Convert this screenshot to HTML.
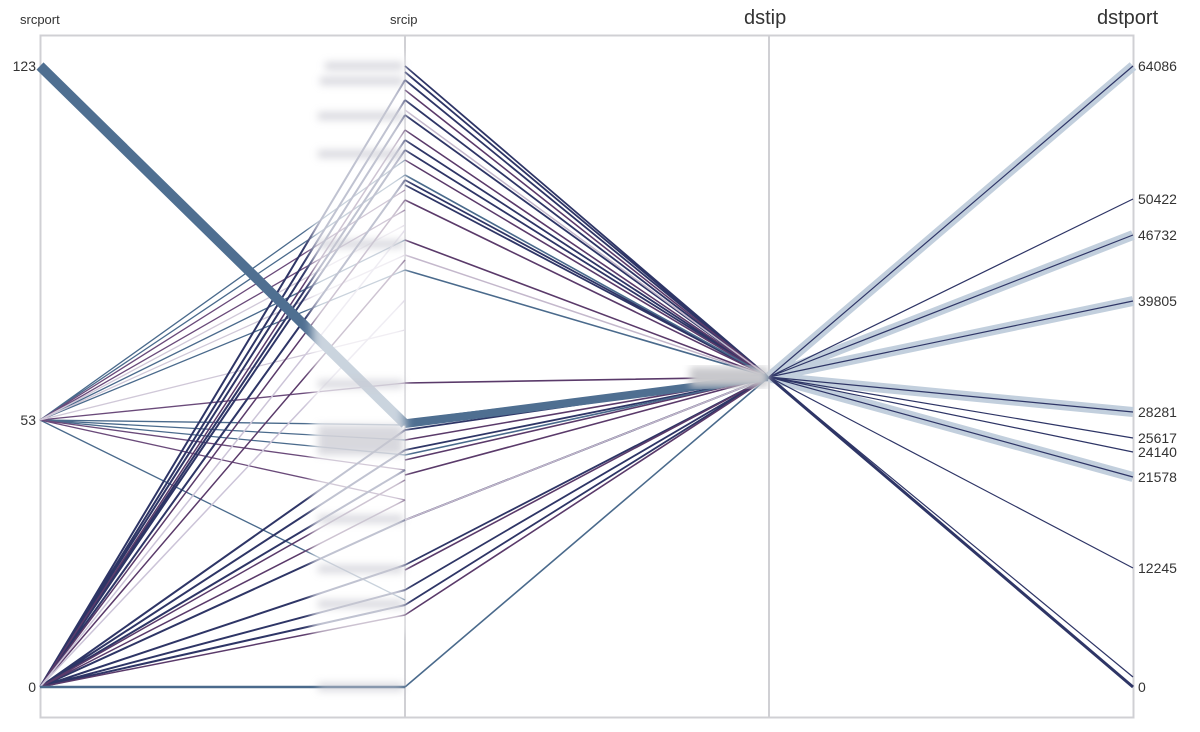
<!DOCTYPE html>
<html><head><meta charset="utf-8"><style>
body{margin:0;background:#fff;width:1200px;height:727px;overflow:hidden;font-family:"Liberation Sans",sans-serif}
</style></head><body>
<svg width="1200" height="727" viewBox="0 0 1200 727" xmlns="http://www.w3.org/2000/svg">
<defs><filter id="b" x="-20%" y="-5%" width="140%" height="110%"><feGaussianBlur stdDeviation="5"/></filter>
<filter id="b2"><feGaussianBlur stdDeviation="4"/></filter></defs>
<rect x="40.5" y="35.5" width="1093" height="682" fill="none" stroke="#d0d0d4" stroke-width="2"/>
<line x1="405" y1="35" x2="405" y2="718" stroke="#d0d0d4" stroke-width="2"/>
<line x1="769" y1="35" x2="769" y2="718" stroke="#d0d0d4" stroke-width="2"/>
<g fill="none" stroke-width="1.3">
<g stroke="#4a6a8c"><path d="M40 420L405 160M40 420L405 175M40 420L405 240M40 420L405 425M40 420L405 455M40 420L405 600M40 420L405 270M40 420L405 440"/></g>
<g stroke="#6a4a7a"><path d="M40 420L405 190M40 420L405 210M40 420L405 383M40 420L405 470M40 420L405 500"/></g>
<g stroke="#d0c8d8"><path d="M40 420L405 225M40 420L405 255M40 420L405 330"/></g>
<g stroke="#2e3566" stroke-width="2"><path d="M40 687L405 80M40 687L405 100M40 687L405 115M40 687L405 150M40 687L405 180M40 687L405 430M40 687L405 450M40 687L405 520M40 687L405 565M40 687L405 590M40 687L405 605M40 687L405 140M40 687L405 470"/></g>
<g stroke="#5a3a6a" stroke-width="1.5"><path d="M40 687L405 130M40 687L405 200M40 687L405 260M40 687L405 480M40 687L405 500M40 687L405 615"/></g>
<g stroke="#ccc4d8" stroke-width="1.5"><path d="M40 687L405 230M40 687L405 300"/></g>
<path d="M40 687L405 687" stroke="#4a6a8c" stroke-width="2.5"/>
<path d="M40 66L405 424" stroke="#4f6f91" stroke-width="10"/>
<g stroke="#2e3566" stroke-width="1.8"><path d="M405 66L769 377M405 72L769 377M405 80L769 377M405 100L769 377M405 115L769 377M405 150L769 377M405 180L769 377M405 430L769 377M405 450L769 377M405 520L769 377M405 565L769 377M405 590L769 377M405 605L769 377M405 140L769 377M405 185L769 377"/></g>
<g stroke="#5a3a6a" stroke-width="1.6"><path d="M405 90L769 377M405 130L769 377M405 160L769 377M405 200L769 377M405 240L769 377M405 383L769 377M405 440L769 377M405 460L769 377M405 475L769 377M405 570L769 377M405 615L769 377"/></g>
<g stroke="#4a6a8c" stroke-width="1.6"><path d="M405 175L769 377M405 270L769 377M405 687L769 377M405 420L769 377M405 455L769 377"/></g>
<g stroke="#c4b8cc" stroke-width="1.5"><path d="M405 110L769 377M405 255L769 377M405 520L769 377"/></g>
<path d="M405 424L769 377" stroke="#4f6f91" stroke-width="8"/>
<g stroke="#c2cfdd" stroke-width="10"><path d="M769 377L1133 66M769 377L1133 235M769 377L1133 301M769 377L1133 412M769 377L1133 477"/></g>
<g stroke="#2e3566" stroke-width="1.2"><path d="M769 377L1133 66M769 377L1133 199M769 377L1133 235M769 377L1133 301M769 377L1133 412M769 377L1133 438M769 377L1133 452M769 377L1133 477M769 377L1133 568M769 377L1133 677"/></g>
<path d="M769 377L1133 687" stroke="#2e3566" stroke-width="3"/>
</g>
<rect x="312" y="55" width="93" height="580" fill="#fff" opacity="0.7" filter="url(#b)"/>
<g fill="#c8c8d0" filter="url(#b2)" opacity="0.7">
<rect x="325" y="62" width="78" height="8"/><rect x="320" y="77" width="83" height="8"/><rect x="318" y="112" width="85" height="8"/><rect x="318" y="150" width="85" height="8"/><rect x="318" y="240" width="85" height="8"/><rect x="318" y="380" width="85" height="8"/><rect x="318" y="425" width="85" height="30"/><rect x="318" y="515" width="85" height="8"/><rect x="318" y="565" width="85" height="8"/><rect x="318" y="600" width="85" height="8"/><rect x="318" y="683" width="85" height="8"/>
</g>
<rect x="690" y="367" width="78" height="20" fill="#c8c8cc" filter="url(#b2)"/>
<g font-family="Liberation Sans, sans-serif" fill="#333">
<text x="20" y="24" font-size="13">srcport</text>
<text x="390" y="24" font-size="13">srcip</text>
<text x="744" y="24" font-size="20">dstip</text>
<text x="1097" y="24" font-size="20">dstport</text>
<g font-size="14" text-anchor="end"><text x="36" y="71">123</text><text x="36" y="425">53</text><text x="36" y="692">0</text></g>
<g font-size="14"><text x="1138" y="71">64086</text><text x="1138" y="204">50422</text><text x="1138" y="240">46732</text><text x="1138" y="306">39805</text><text x="1138" y="417">28281</text><text x="1138" y="443">25617</text><text x="1138" y="457">24140</text><text x="1138" y="482">21578</text><text x="1138" y="573">12245</text><text x="1138" y="692">0</text></g>
</g>
</svg>
</body></html>
